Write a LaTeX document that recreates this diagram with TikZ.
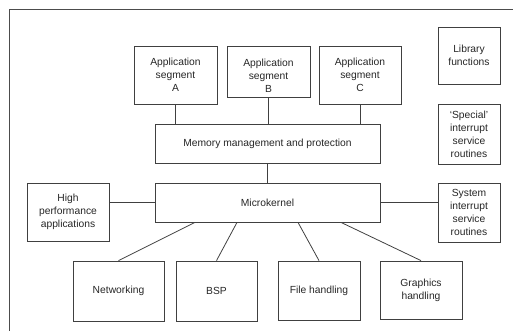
\documentclass[tikz,border=0pt]{standalone}
\usepackage{fontspec}
\setmainfont{Liberation Sans}
\usepackage{tikz}
\usetikzlibrary{positioning, calc}

\begin{document}
\begin{tikzpicture}[x=1pt, y=-1pt,
			box/.style={draw=black!75, line width=0.8pt, inner sep=0pt, align=center,
				text=black!85, font=\fontsize{10.3}{13}\selectfont},
			txt/.style={inner sep=0pt, align=center, text=black!85,
				font=\fontsize{10.3}{13}\selectfont},
			link/.style={draw=black!75, line width=0.8pt}]
			\useasboundingbox (0,0) rectangle (513,331);
			\draw[black!70, line width=0.9pt] (513,9.5) -- (9,9.5) -- (9,331);
			% top row
			\node[box, minimum width=83pt, minimum height=58pt] (sega) at (175.5,75) {Application\\segment\\A};
			\node[box, minimum width=83pt, minimum height=51pt] (segb) at (268.5,71.5) {};
			\node[txt] (segblabel) at ([yshift=-4.5pt]segb.center) {Application\\segment\\B};
			\node[box, minimum width=82pt, minimum height=58pt] (segc) at (360,75) {Application\\segment\\C};
			\node[box, minimum width=225pt, minimum height=39pt] (mem) at (267.5,143.5) {Memory management and protection};
			\node[box, minimum width=225pt, minimum height=39pt] (mk) at (267.5,202.5) {Microkernel};
			% right column
			\node[box, minimum width=62pt, minimum height=57pt] (lib) at (469,55.5) {Library\\functions};
			\node[box, minimum width=62pt, minimum height=60pt] (spec) at (469,134) {`Special'\\interrupt\\service\\routines};
			\node[box, minimum width=62pt, minimum height=59pt] (sys) at (469,212.5) {System\\interrupt\\service\\routines};
			\node[box, minimum width=82pt, minimum height=58pt] (hpa) at (68,212) {High\\performance\\applications};
			% bottom row
			\node[box, minimum width=91pt, minimum height=60pt] (net) at (118.5,291) {Networking};
			\node[box, minimum width=81pt, minimum height=60pt] (bsp) at (216.5,291) {BSP};
			\node[box, minimum width=82pt, minimum height=59pt] (fh) at (319,290.5) {File handling};
			\node[box, minimum width=82pt, minimum height=58pt] (gfx) at (421,290) {Graphics\\handling};
			\draw[link] (sega.south) -- (sega.south |- mem.north);
			\draw[link] (segb.south) -- (segb.south |- mem.north);
			\draw[link] (segc.south) -- (segc.south |- mem.north);
			\draw[link] (mem.south) -- (mk.north);
			\draw[link] (mk.west) -- (mk.west -| hpa.east);
			\draw[link] (mk.east) -- (mk.east -| sys.west);
			\draw[link] ([xshift=-72.5pt]mk.south) -- (net.north);
			\draw[link] ([xshift=-30.5pt]mk.south) -- (bsp.north);
			\draw[link] ([xshift=30.5pt]mk.south) -- (fh.north);
			\draw[link] ([xshift=73.5pt]mk.south) -- (gfx.north);
		\end{tikzpicture}
\end{document}
